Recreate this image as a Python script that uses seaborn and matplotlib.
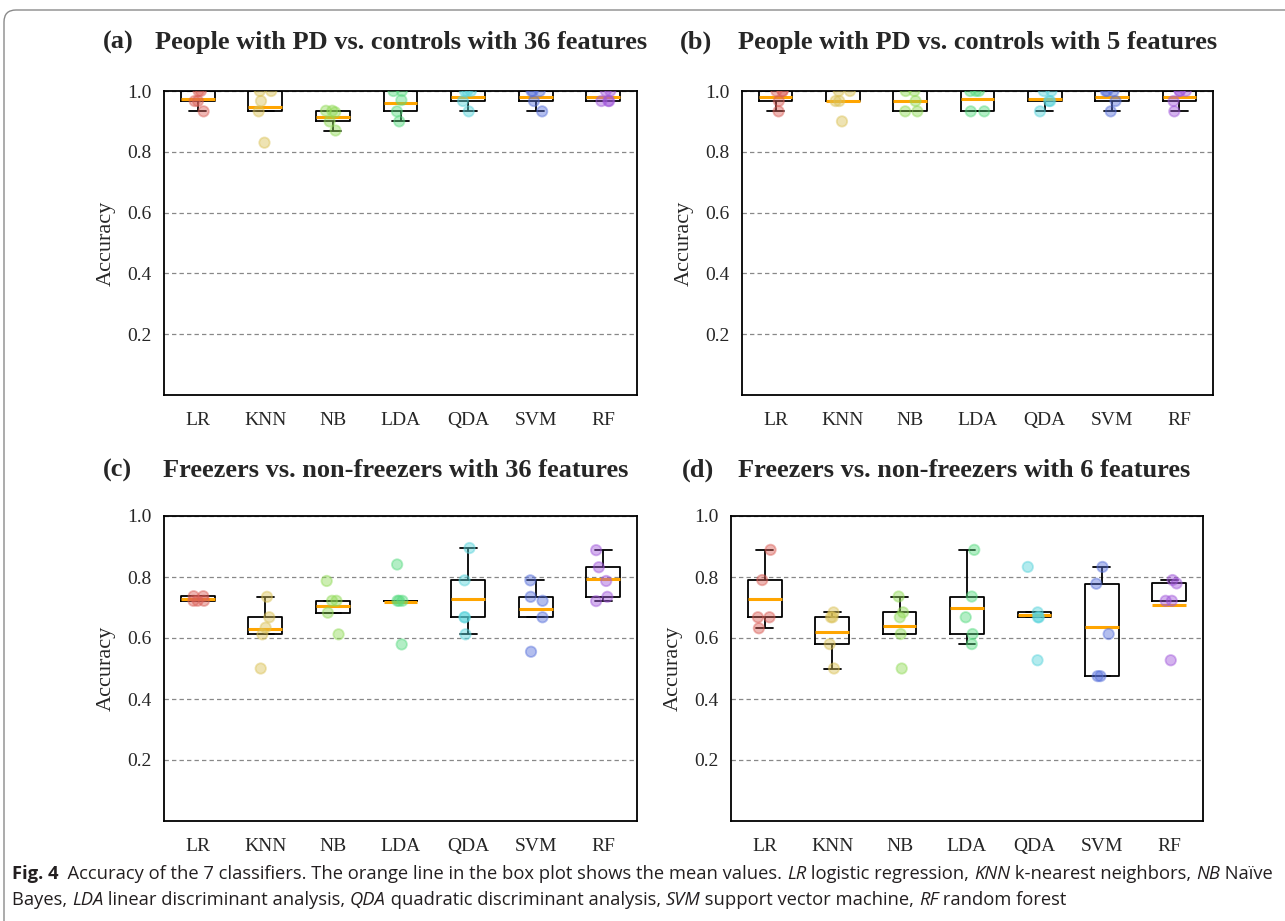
import numpy as np
import pandas as pd
import matplotlib
matplotlib.use("Agg")
import matplotlib.pyplot as plt
import seaborn as sns
from matplotlib.patches import FancyBboxPatch
from matplotlib.transforms import IdentityTransform
from matplotlib import font_manager

models = ["LR", "KNN", "NB", "LDA", "QDA", "SVM", "RF"]

# (a) People with PD vs. controls, 36 features
a_LR = [1.0, 1.0, 0.967, 0.967, 0.933]
a_KNN = [1.0, 1.0, 0.967, 0.933, 0.83]
a_NB = [0.935, 0.935, 0.93, 0.90, 0.87]
a_LDA = [1.0, 1.0, 0.97, 0.933, 0.90]
a_QDA = [1.0, 1.0, 1.0, 0.967, 0.933]
a_SVM = [1.0, 1.0, 1.0, 0.967, 0.933]
a_RF = [1.0, 1.0, 0.967, 0.967, 0.967]
# (b) People with PD vs. controls, 5 features
b_LR = [1.0, 1.0, 1.0, 0.967, 0.933]
b_KNN = [1.0, 1.0, 0.967, 0.967, 0.90]
b_NB = [1.0, 1.0, 0.967, 0.933, 0.933]
b_LDA = [1.0, 1.0, 1.0, 0.933, 0.933]
b_QDA = [1.0, 1.0, 0.967, 0.967, 0.933]
b_SVM = [1.0, 1.0, 1.0, 0.967, 0.933]
b_RF = [1.0, 1.0, 1.0, 0.967, 0.933]
# (c) Freezers vs. non-freezers, 36 features
c_LR = [0.737, 0.737, 0.722, 0.722, 0.722]
c_KNN = [0.735, 0.668, 0.634, 0.612, 0.50]
c_NB = [0.787, 0.722, 0.722, 0.683, 0.612]
c_LDA = [0.841, 0.722, 0.722, 0.722, 0.579]
c_QDA = [0.895, 0.789, 0.668, 0.668, 0.612]
c_SVM = [0.789, 0.735, 0.722, 0.668, 0.555]
c_RF = [0.888, 0.832, 0.787, 0.735, 0.721]
# (d) Freezers vs. non-freezers, 6 features
d_LR = [0.889, 0.79, 0.668, 0.668, 0.632]
d_KNN = [0.684, 0.668, 0.668, 0.58, 0.50]
d_NB = [0.736, 0.684, 0.668, 0.613, 0.50]
d_LDA = [0.889, 0.736, 0.668, 0.613, 0.58]
d_QDA = [0.833, 0.684, 0.668, 0.668, 0.527]
d_SVM = [0.833, 0.778, 0.613, 0.475, 0.475]
d_RF = [0.79, 0.779, 0.722, 0.722, 0.527]

panel_letters = ["(a)", "(b)", "(c)", "(d)"]
panel_titles = [
    "People with PD vs. controls with 36 features",
    "People with PD vs. controls with 5 features",
    "Freezers vs. non-freezers with 36 features",
    "Freezers vs. non-freezers with 6 features",
]
y_ticks = [0.2, 0.4, 0.6, 0.8, 1.0]
y_label = "Accuracy"

panel_data = [
    [a_LR, a_KNN, a_NB, a_LDA, a_QDA, a_SVM, a_RF],
    [b_LR, b_KNN, b_NB, b_LDA, b_QDA, b_SVM, b_RF],
    [c_LR, c_KNN, c_NB, c_LDA, c_QDA, c_SVM, c_RF],
    [d_LR, d_KNN, d_NB, d_LDA, d_QDA, d_SVM, d_RF],
]

sns.set_style("white")
plt.rcParams["font.family"] = ["Liberation Serif", "DejaVu Serif"]

W, H = 1285, 921
fig = plt.figure(figsize=(W / 100, H / 100), dpi=100)

# axes boxes in pixels: left, top, right, bottom
boxes = [(164, 91, 637, 395), (742, 91, 1213, 395),
         (164, 516, 637, 821), (731, 516, 1203, 821)]
letter_pos = [(103, 49), (680, 49), (103, 477), (682, 477)]
title_pos = [(155, 49), (738, 49), (163, 477), (738, 477)]

palette = sns.color_palette("hls", 8)[:7]
rng_seed = 3

for i, (l, t, r, b) in enumerate(boxes):
    ax = fig.add_axes([l / W, 1 - b / H, (r - l) / W, (b - t) / H])
    rows = []
    for m, vals in zip(models, panel_data[i]):
        for v in vals:
            rows.append((m, v))
    df = pd.DataFrame(rows, columns=["model", "acc"])
    np.random.seed(rng_seed + i)
    sns.stripplot(data=df, x="model", y="acc", hue="model", order=models,
                  hue_order=models, palette=palette, jitter=0.11, size=7.5,
                  alpha=0.45, legend=False, ax=ax, zorder=3)
    for coll in ax.collections:
        coll.set_edgecolor("face")
        coll.set_linewidth(1.3)
    sns.boxplot(data=df, x="model", y="acc", order=models, width=0.5,
                fill=False, color="black", linewidth=1.3, showfliers=False,
                showmeans=True, meanline=True,
                meanprops=dict(color="orange", linestyle="-", linewidth=2.2),
                medianprops=dict(visible=False), ax=ax)
    ax.set_ylim(0, 1.0)
    ax.set_xlim(-0.5, 6.5)
    ax.set_yticks(y_ticks)
    ax.set_yticklabels([f"{v:.1f}" for v in y_ticks])
    ax.yaxis.grid(True, linestyle=(0, (3.5, 2.5)), color="#888888", linewidth=0.9)
    ax.xaxis.grid(False)
    ax.set_axisbelow(True)
    ax.set_xlabel("")
    ax.set_ylabel(y_label, fontsize=16, labelpad=8)
    ax.tick_params(axis="both", direction="out", length=5, width=1.2,
                   labelsize=14, color="black", pad=7)
    ax.tick_params(axis="y", pad=4)
    for s in ax.spines.values():
        s.set_color("black")
        s.set_linewidth(1.3)
    fig.text(letter_pos[i][0] / W, 1 - letter_pos[i][1] / H, panel_letters[i],
             fontsize=19, fontweight="bold", va="baseline", ha="left")
    fig.text(title_pos[i][0] / W, 1 - title_pos[i][1] / H, panel_titles[i],
             fontsize=19, fontweight="bold", va="baseline", ha="left")

# frame
frame = FancyBboxPatch((4, -20), 1400, H - 10 + 20,
                       boxstyle="round,pad=0,rounding_size=12",
                       transform=IdentityTransform(), fill=False,
                       edgecolor="#8a8a8a", linewidth=1.0)
fig.add_artist(frame)

# caption
renderer = fig.canvas.get_renderer()


def has_font(name):
    try:
        font_manager.findfont(name, fallback_to_default=False)
        return True
    except Exception:
        return False


if has_font("Liberation Sans Narrow"):
    cap_font = ["Liberation Sans Narrow", "DejaVu Sans"]
else:
    cap_font = ["Open Sans", "DejaVu Sans"]
cap_size = 10.0


def text_width(s, weight, style):
    t1 = fig.text(0, 0, s + "|", fontsize=cap_size, family=cap_font,
                  fontweight=weight, fontstyle=style)
    t2 = fig.text(0, 0, "|", fontsize=cap_size, family=cap_font,
                  fontweight=weight, fontstyle=style)
    w = t1.get_window_extent(renderer).width - t2.get_window_extent(renderer).width
    t1.remove()
    t2.remove()
    return w


N, B, I = "normal", "bold", "italic"
line1 = [("Fig. 4", B, "normal"),
         ("  Accuracy of the 7 classifiers. The orange line in the box plot shows the mean values. ", N, "normal"),
         ("LR", N, I), (" logistic regression, ", N, "normal"),
         ("KNN", N, I), (" k-nearest neighbors, ", N, "normal"),
         ("NB", N, I), (" Naïve", N, "normal")]
line2 = [("Bayes, ", N, "normal"), ("LDA", N, I),
         (" linear discriminant analysis, ", N, "normal"),
         ("QDA", N, I), (" quadratic discriminant analysis, ", N, "normal"),
         ("SVM", N, I), (" support vector machine, ", N, "normal"),
         ("RF", N, I), (" random forest", N, "normal")]

# scale caption size so that the first line spans the target width
w1 = sum(text_width(s, wt, st) for s, wt, st in line1)
cap_size = cap_size * (1263.0 / w1)


def rich_line(x, y, pieces):
    for s, weight, style in pieces:
        fig.text(x / W, 1 - y / H, s, fontsize=cap_size, family=cap_font,
                 fontweight=weight, fontstyle=style, va="baseline", ha="left",
                 color="#231f20")
        x += text_width(s, weight, style)


rich_line(12, 879, line1)
rich_line(12, 905, line2)

fig.savefig("out.png", dpi=100)
